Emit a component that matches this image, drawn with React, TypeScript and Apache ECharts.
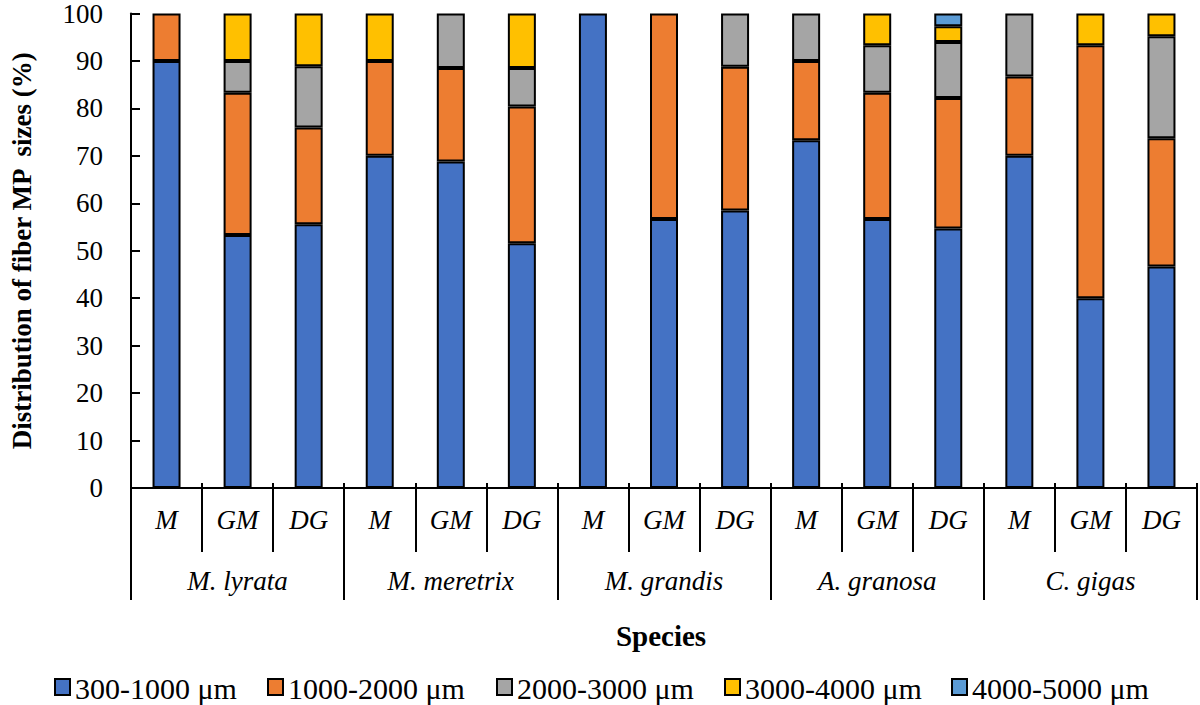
import React, { useEffect, useRef } from "react";
import * as echarts from "echarts";

const subCategories = ["M", "GM", "DG", "M", "GM", "DG", "M", "GM", "DG", "M", "GM", "DG", "M", "GM", "DG"];
const species = ["M. lyrata", "M. meretrix", "M. grandis", "A. granosa", "C. gigas"];
const yTicks = { min: 0, max: 100, interval: 10 };

const seriesNames = ["300-1000 μm", "1000-2000 μm", "2000-3000 μm", "3000-4000 μm", "4000-5000 μm"];
const seriesColors = ["#4472C4", "#ED7D31", "#A5A5A5", "#FFC000", "#5B9BD5"];

const size300to1000 = [90, 53.3, 55.6, 70, 68.8, 51.6, 100, 56.7, 58.5, 73.3, 56.7, 54.7, 70, 40, 46.7];
const size1000to2000 = [10, 30, 20.4, 20, 19.7, 28.8, null, 43.3, 30.3, 16.7, 26.6, 27.5, 16.7, 53.3, 27];
const size2000to3000 = [null, 6.7, 12.9, null, 11.5, 8.1, null, null, 11.2, 10, 10, 11.8, 13.3, null, 21.5];
const size3000to4000 = [null, 10, 11.1, 10, null, 11.5, null, null, null, null, 6.7, 3.3, null, 6.7, 4.8];
const size4000to5000 = [null, null, null, null, null, null, null, null, null, null, null, 2.7, null, null, null];

const allSeries = [size300to1000, size1000to2000, size2000to3000, size3000to4000, size4000to5000];

// legend key positions (layout only)
const legendKeyX = [55, 268, 497, 725, 952];

const FONT = "Liberation Serif, Times New Roman, Tinos, DejaVu Serif, Noto Serif, serif";

export default function App() {
  const ref = useRef<HTMLDivElement>(null);
  useEffect(() => {
    document.body.style.margin = "0";
    if (!ref.current) return;
    const chart = echarts.init(ref.current, null, { renderer: "svg" });
    const legendGraphics: any[] = [];
    seriesNames.forEach((name, i) => {
      legendGraphics.push({
        type: "rect",
        shape: { x: legendKeyX[i], y: 679, width: 15, height: 16 },
        style: { fill: seriesColors[i], stroke: "#000", lineWidth: 2 },
      });
      legendGraphics.push({
        type: "text",
        x: legendKeyX[i] + 20,
        y: 688,
        style: { text: name, fontFamily: FONT, fontSize: 30, fill: "#000", align: "left", verticalAlign: "middle" },
      });
    });
    chart.setOption({
      animation: false,
      textStyle: { fontFamily: FONT },
      grid: { left: 127, right: 3, top: 12, bottom: 217 },
      graphic: [
        {
          type: "text",
          x: 661,
          y: 636,
          style: { text: "Species", fontFamily: FONT, fontWeight: "bold", fontSize: 29, fill: "#000", align: "center", verticalAlign: "middle" },
        },
        ...legendGraphics,
      ],
      xAxis: [
        {
          type: "category",
          data: subCategories,
          position: "bottom",
          axisLine: { show: true, lineStyle: { color: "#000", width: 2 } },
          axisTick: { show: true, inside: true, length: 5, lineStyle: { color: "#000", width: 2 } },
          axisLabel: { color: "#000", fontFamily: FONT, fontStyle: "italic", fontSize: 27, margin: 18 },
        },
        {
          type: "category",
          data: subCategories,
          position: "bottom",
          axisLine: { show: false },
          axisTick: { show: true, length: 64, lineStyle: { color: "#000", width: 2 } },
          axisLabel: { show: false },
        },
        {
          type: "category",
          data: species,
          position: "bottom",
          axisLine: { show: false },
          axisTick: { show: true, length: 112, lineStyle: { color: "#000", width: 2 } },
          axisLabel: { color: "#000", fontFamily: FONT, fontStyle: "italic", fontSize: 27, margin: 79 },
        },
      ],
      yAxis: {
        type: "value",
        min: yTicks.min,
        max: yTicks.max,
        interval: yTicks.interval,
        name: "Distribution of fiber MP  sizes (%)",
        nameLocation: "middle",
        nameRotate: 90,
        nameGap: 96,
        nameTextStyle: { fontFamily: FONT, fontWeight: "bold", fontSize: 27, color: "#000" },
        axisLine: { show: true, lineStyle: { color: "#000", width: 2 } },
        axisTick: { show: true, inside: true, length: 9, lineStyle: { color: "#000", width: 2 } },
        axisLabel: { color: "#000", fontFamily: FONT, fontSize: 27, margin: 28 },
        splitLine: { show: false },
      },
      series: allSeries.map((data, i) => ({
        name: seriesNames[i],
        type: "bar",
        stack: "total",
        xAxisIndex: 0,
        barWidth: 28,
        data,
        itemStyle: { color: seriesColors[i], borderColor: "#000", borderWidth: 2 },
      })),
    });
    return () => chart.dispose();
  }, []);
  return <div ref={ref} style={{ width: 1200, height: 705, fontFamily: FONT }} />;
}
